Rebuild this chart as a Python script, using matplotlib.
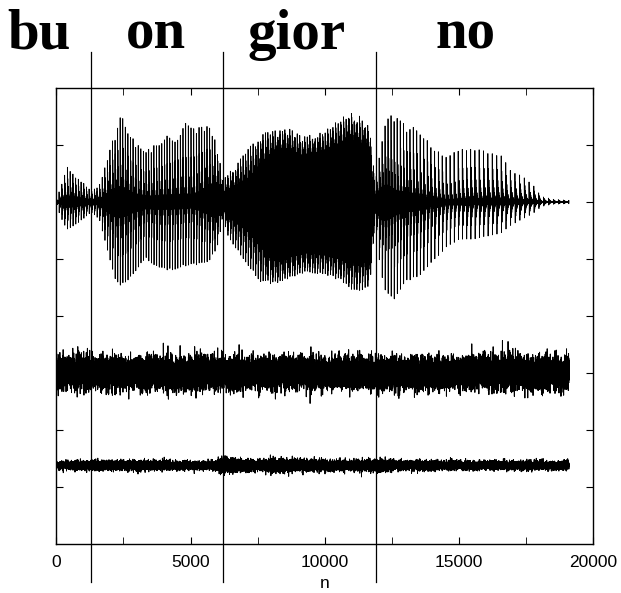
import numpy as np
import matplotlib
matplotlib.use('Agg')
import matplotlib.pyplot as plt
import matplotlib.transforms as mtransforms

plt.rcParams['font.family'] = ['Liberation Sans', 'DejaVu Sans']

N_SAMPLES = 19100

# speech envelope (top trace), units of y-grid
env_n = [0, 200, 400, 700, 1000, 1300, 1600, 1930, 2230, 2440, 2740, 3050, 3350,
         3760, 4260, 4770, 5280, 5680, 5990, 6200, 6400, 6600, 7100, 7610, 8120,
         8630, 9140, 9640, 10150, 10660, 10960, 11370, 11670, 11880, 12080, 12280,
         12590, 12990, 13500, 14010, 14510, 15020, 15530, 16040, 16540, 16950,
         17360, 17760, 18070, 18470, 19080]
env_up = [0.05, 0.3, 0.62, 0.45, 0.35, 0.2, 0.3, 0.8, 1.3, 1.55, 1.2, 1.0, 0.9,
          1.05, 1.2, 1.38, 1.38, 1.35, 1.0, 0.4, 0.5, 0.6, 0.9, 1.2, 1.25,
          1.3, 1.15, 1.2, 1.3, 1.5, 1.62, 1.5, 1.3, 0.35, 1.0, 1.5,
          1.55, 1.35, 1.3, 1.0, 0.8, 0.95, 0.95, 0.9, 0.85, 0.55,
          0.45, 0.3, 0.1, 0.05, 0.03]
env_lo = [0.05, 0.3, 0.48, 0.4, 0.3, 0.18, 0.3, 0.9, 1.4, 1.48, 1.35, 1.15, 1.0,
          1.15, 1.2, 1.12, 1.1, 1.05, 0.8, 0.3, 0.6, 0.75, 1.1, 1.4, 1.45,
          1.35, 1.25, 1.25, 1.3, 1.4, 1.55, 1.55, 1.5, 0.4, 1.2, 1.6,
          1.7, 1.4, 1.3, 1.05, 0.8, 0.65, 0.65, 0.6, 0.55, 0.4,
          0.3, 0.2, 0.08, 0.04, 0.03]

# pitch period (samples) and how fast each period dies out
pitch_n = [0, 2030, 5080, 8120, 11170, 12690, 14720, 16750, 19100]
pitch_p = [105, 95, 100, 90, 100, 115, 150, 170, 190]
decay_n = [0, 1320, 2030, 3350, 5080, 6200, 7100, 8120, 11670, 11980, 12690,
           14720, 17260, 19100]
decay_d = [3.0, 3.0, 3.0, 4.2, 4.5, 1.5, 1.5, 0.6, 0.6, 2.0, 3.2, 3.8, 3.0, 2.0]

# white noise band (middle) and residual band (bottom)
noise_sigma = 0.135
resid_n = [0, 1520, 3050, 4570, 5890, 6200, 6500, 6900, 7610, 8630, 9640, 10660,
           11670, 11980, 12490, 14210, 16240, 19100]
resid_s = [0.036, 0.04, 0.04, 0.036, 0.036, 0.07, 0.06, 0.048, 0.048, 0.054, 0.048,
           0.042, 0.048, 0.054, 0.042, 0.04, 0.036, 0.036]

offsets = [6.0, 3.0, 1.38]

boundaries = [1295, 6210, 11900]
syllables = ['bu', 'on', 'gior', 'no']
syll_x = [-645, 3720, 8945, 15250]


def hash_gauss(n, seed):
    # deterministic noise-like texture
    a = np.sin(n * 12.9898 + seed * 78.233) * 43758.5453
    b = np.sin(n * 39.3468 + seed * 11.135) * 24634.6345
    u1 = np.clip(a - np.floor(a), 1e-9, 1.0)
    u2 = b - np.floor(b)
    return np.sqrt(-2 * np.log(u1)) * np.cos(2 * np.pi * u2)


n = np.arange(N_SAMPLES)

period = np.interp(n, pitch_n, pitch_p)
phi = np.cumsum(1.0 / period) % 1.0
d = np.interp(n, decay_n, decay_d)
F = 8.0
c = np.exp(-d * phi) * np.cos(2 * np.pi * F * phi)
negmax = np.exp(-d / (2 * F))
up = np.interp(n, env_n, env_up)
lo = np.interp(n, env_n, env_lo)
speech = np.where(c > 0, c * up, c / negmax * lo)

noise = noise_sigma * hash_gauss(n, 1)
resid = np.interp(n, resid_n, resid_s) * hash_gauss(n, 2)

fig = plt.figure(figsize=(6.21, 5.93), dpi=100)
ax = fig.add_axes([0.0906, 0.0826, 0.8647, 0.769])

ax.plot(n, offsets[0] + speech, color='k', lw=0.6)
ax.plot(n, offsets[1] + noise, color='k', lw=0.7)
ax.plot(n, offsets[2] + resid, color='k', lw=0.7)

ax.set_xlim(0, 20000)
ax.set_ylim(0, 8)
ax.set_xticks(range(0, 20001, 5000))
ax.set_xticks(range(0, 20001, 2500), minor=True)
ax.set_yticks(range(1, 8))
ax.set_yticklabels([])
ax.tick_params(which='both', direction='in', top=True, right=True, length=5,
               labelsize=12.5, pad=8)
for sp in ax.spines.values():
    sp.set_linewidth(1.0)

for x in boundaries:
    ax.axvline(x, ymin=-0.083, ymax=1.079, color='k', lw=0.9, clip_on=False)

trans = mtransforms.blended_transform_factory(ax.transData, ax.transAxes)
for s, x in zip(syllables, syll_x):
    ax.text(x, 1.086, s, transform=trans, ha='center', va='baseline',
            fontsize=41, fontweight='bold', family='Liberation Serif')

ax.set_xlabel('n', fontsize=12.5, labelpad=4)

fig.savefig('out.png', dpi=100)
